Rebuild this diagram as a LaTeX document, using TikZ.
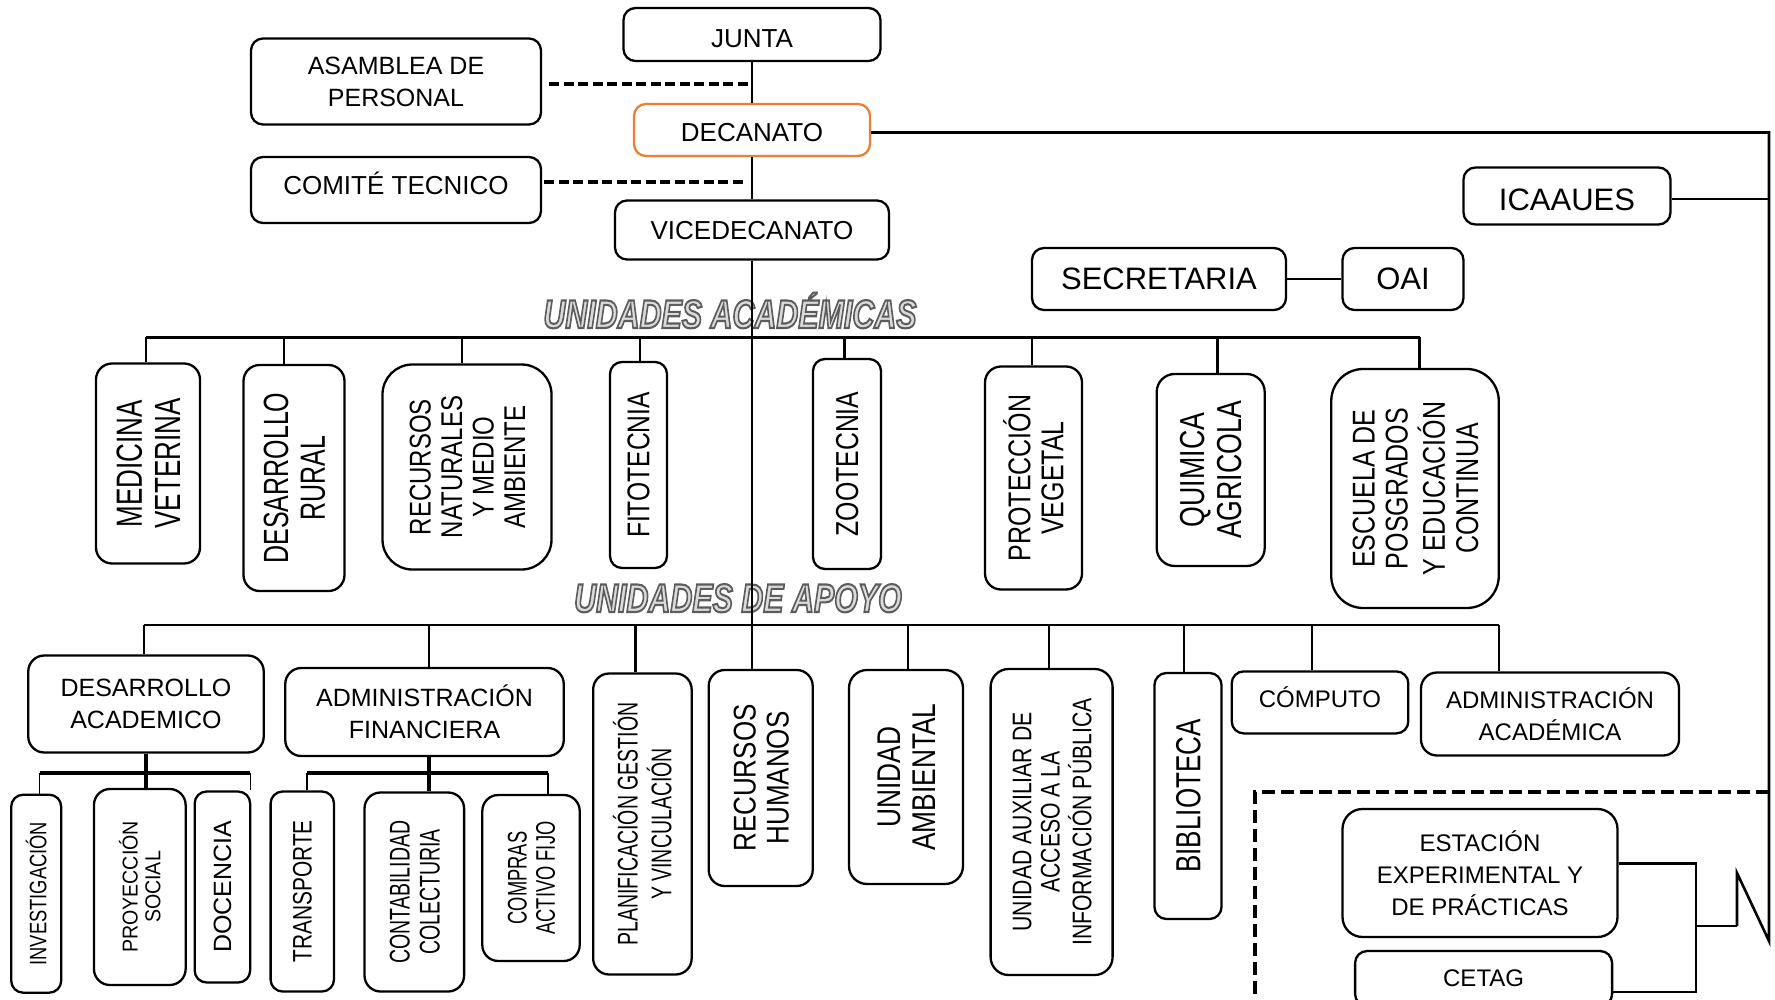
\documentclass[tikz,border=0pt]{standalone}
\usepackage{fontspec}
\setmainfont{Liberation Sans}
\usepackage{graphicx}
\definecolor{arancio}{RGB}{237,125,49}
% testo verticale: scala, corpo, righe
\newcommand{\vlab}[3]{\rotatebox{90}{\scalebox{1}[#1]{\fontsize{#2}{#2}\selectfont\renewcommand{\arraystretch}{1.05}\raisebox{0pt}[\height][\dimexpr\depth-0.3em\relax]{\begin{tabular}{@{}c@{}}#3\end{tabular}}}}}
% titolo a contorno
\newcommand{\titolo}[1]{\scalebox{0.76}[1]{\fontsize{40}{40}\selectfont\bfseries\itshape\special{pdf:literal direct q 2 Tr 2.1 w 0.36 G 0.86 g}#1\special{pdf:literal direct Q}}}
\begin{document}
\begin{tikzpicture}[x=1pt,y=-1pt,
    box/.style={draw, line width=2.3pt, rounded corners=12pt, align=center, inner sep=0pt},
    misura/.style 2 args={minimum width=#1pt, minimum height=#2pt},
    testo/.style={font=\fontsize{#1}{32}\selectfont},
    conn/.style={line width=2.6pt},
    sbar/.style={line width=3.2pt},
    thinln/.style={line width=1.4pt},
    dashln/.style={line width=3.5pt, dash pattern=on 10pt off 4.5pt},
    dashbox/.style={line width=3.2pt, dash pattern=on 13pt off 6pt}]
    \useasboundingbox (0,0) rectangle (1775,1000);
    \clip (0,0) rectangle (1775,1000);

    % Titoli delle sezioni
    \node[anchor=base] (titA) at (730,328) {\titolo{UNIDADES ACADÉMICAS}};
    \node[anchor=base] (titB) at (738,612) {\titolo{UNIDADES DE APOYO}};

    % Direzione
    \node[box, misura={257}{53}, testo=26, text height=25.4pt, text depth=0pt] (ju) at (752,34.5) {JUNTA};
    \node[box, misura={290}{86}, testo=25] (as) at (396,81.5) {ASAMBLEA DE\\PERSONAL};
    \node[box, draw=arancio, misura={236}{52}, testo=26, text height=23.2pt, text depth=0pt] (dc) at (752,130) {DECANATO};
    \node[box, misura={290}{66}, testo=26, text height=18.6pt, text depth=9pt] (ct) at (396,190) {COMITÉ TECNICO};
    \node[box, misura={274}{59}, testo=26, text height=18.6pt, text depth=0pt] (vd) at (752,230) {VICEDECANATO};
    \node[box, misura={207}{57}, testo=31, text height=29pt, text depth=0pt] (ic) at (1567,196) {ICAAUES};
    \node[box, misura={254}{62}, testo=31] (sc) at (1159,279) {SECRETARIA};
    \node[box, misura={121}{62}, testo=31] (oa) at (1403,279) {OAI};

    % Unidades academicas
    \node[box, misura={104}{200}, rounded corners=16pt] (mv) at (148,463.5) {\vlab{1.4}{26}{MEDICINA\\VETERINA}};
    \node[box, misura={101}{226}, rounded corners=16pt] (dr) at (294,478) {\vlab{1.4}{25}{DESARROLLO\\RURAL}};
    \node[box, misura={169}{205}, rounded corners=30pt] (rn) at (467,467) {\vlab{1.25}{24}{RECURSOS\\NATURALES\\Y MEDIO\\AMBIENTE}};
    \node[box, misura={57}{206}] (ft) at (638.5,465) {\vlab{1.28}{24.6}{FITOTECNIA}};
    \node[box, misura={68}{210}] (zt) at (847,464) {\vlab{1.28}{24.8}{ZOOTECNIA}};
    \node[box, misura={97}{223}, rounded corners=16pt] (pv) at (1033.5,478) {\vlab{1.26}{25}{PROTECCIÓN\\VEGETAL}};
    \node[box, misura={108}{192}, rounded corners=18pt] (qa) at (1210.7,470) {\vlab{1.3}{26.7}{QUIMICA\\AGRICOLA}};
    \node[box, misura={167.5}{239}, rounded corners=32pt] (ep) at (1415,488.5) {\vlab{1.26}{25}{ESCUELA DE\\POSGRADOS\\Y EDUCACIÓN\\CONTINUA}};

    % Unidades de apoyo
    \node[box, misura={235.5}{97}, rounded corners=16pt, testo=25] (da) at (146,704) {DESARROLLO\\ACADEMICO};
    \node[box, misura={278.5}{88}, rounded corners=16pt, testo=25] (af) at (424.5,712) {ADMINISTRACIÓN\\FINANCIERA};
    \node[box, misura={98.5}{301}, rounded corners=16pt] (pg) at (642.4,824) {\vlab{1.46}{19.5}{PLANIFICACIÓN GESTIÓN\\Y VINCULACIÓN}};
    \node[box, misura={104}{216}, rounded corners=16pt] (rh) at (760.7,778) {\vlab{1.21}{26}{RECURSOS\\HUMANOS}};
    \node[box, misura={114}{214}, rounded corners=18pt] (ua) at (906,777) {\vlab{1.25}{26.3}{UNIDAD\\AMBIENTAL}};
    \node[box, misura={122}{306}, rounded corners=18pt] (ux) at (1051.6,822) {\vlab{1.27}{21.2}{UNIDAD AUXILIAR DE\\ACCESO A LA\\INFORMACIÓN PÚBLICA}};
    \node[box, misura={67}{246}] (bi) at (1188,796) {\vlab{1.34}{26}{BIBLIOTECA}};
    \node[box, misura={176.6}{62}, testo=24, text height=17.2pt, text depth=8pt] (cp) at (1320,702.4) {CÓMPUTO};
    \node[box, misura={258}{83}, rounded corners=16pt, testo=24] (aa) at (1550,714) {ADMINISTRACIÓN\\ACADÉMICA};

    % Sottounita
    \node[box, misura={50}{198}] (iv) at (36.2,893.7) {\vlab{1.3}{18.3}{INVESTIGACIÓN}};
    \node[box, misura={91.7}{196}, rounded corners=16pt] (ps) at (139.8,887) {\vlab{1.1}{19.6}{PROYECCIÓN\\SOCIAL}};
    \node[box, misura={55.5}{191}] (dn) at (222.4,887) {\vlab{1.0}{25}{DOCENCIA}};
    \node[box, misura={63.4}{200}] (tr) at (302.3,891.5) {\vlab{1.28}{20.9}{TRANSPORTE}};
    \node[box, misura={99.6}{199}, rounded corners=16pt] (cb) at (414.3,892) {\vlab{1.46}{19.5}{CONTABILIDAD\\COLECTURIA}};
    \node[box, misura={97.4}{166}, rounded corners=16pt] (cm) at (531,878) {\vlab{1.47}{18.3}{COMPRAS\\ACTIVO FIJO}};

    % Riquadro tratteggiato
    \node[box, misura={275}{128}, rounded corners=20pt, testo=24] (es) at (1480,873) {ESTACIÓN\\EXPERIMENTAL Y\\DE PRÁCTICAS};
    \node[box, misura={257}{55}, testo=24] (cg) at (1483.6,978.5) {CETAG};

    % Linea centrale
    \draw[conn] (ju.south) -- (dc.north);
    \draw[conn] (dc.south) -- (vd.north);
    \draw[conn] (vd.south) -- (vd.south |- rh.north);
    \draw[dashln] ([xshift=7pt,yshift=-2.5pt]as.east) -- ([yshift=-2.5pt]as.east -| ju.south);
    \draw[dashln] ([xshift=2pt,yshift=8pt]ct.east) -- ([xshift=-7pt,yshift=8pt]ct.east -| ju.south);
    \draw[conn] (sc.east) -- (oa.west);

    % Barra accademica
    \coordinate (barA) at (146,337.3);
    \coordinate (barAr) at (1419.5,337.3);
    \draw[conn] (barA) -- (barAr);
    \foreach \n/\dx in {mv/-2, dr/-10, rn/-5, ft/1.5, zt/-2.5, pv/-1.5, qa/7, ep/4.5} {
        \path ([xshift=\dx pt]\n.north) coordinate (t);
        \draw[conn] (t) -- (t |- barA);
    }

    % Barra di appoggio
    \coordinate (barB) at (143.8,625);
    \coordinate (barBr) at (1499,625);
    \draw[conn] (barB) -- (barBr);
    \foreach \n/\dx in {da/-2, af/4.5, pg/-7, ua/2, ux/-2.6, bi/-4, cp/-8, aa/-51} {
        \path ([xshift=\dx pt]\n.north) coordinate (t);
        \draw[conn] (t) -- (t |- barB);
    }

    % Sottobarre
    \coordinate (sbA) at (39.6,773);
    \coordinate (sbAr) at (250.2,773);
    \draw[line width=3.6pt] (da.south) -- (da.south |- ps.north);
    \draw[sbar] (sbA) -- (sbAr);
    \draw[thinln] (sbA) -- (sbA |- iv.north);
    \draw[thinln] (sbAr) -- (sbAr |- dn.north);
    \path ([xshift=4.5pt]af.south) coordinate (afd);
    \coordinate (sbB) at (306.8,773);
    \coordinate (sbBr) at (547.9,773);
    \draw[line width=3.6pt] (afd) -- (afd |- cb.north);
    \draw[sbar] (sbB) -- (sbBr);
    \draw[thinln] (sbB) -- (sbB |- tr.north);
    \draw[thinln] (sbBr) -- (sbBr |- cm.north);

    % Linea di destra e zigzag
    \coordinate (zA) at (1769,941);
    \coordinate (zB) at (1737,873);
    \coordinate (zC) at (1737,926);
    \coordinate (bk) at (1696,926);
    \draw[conn] ([yshift=-2.5pt]dc.east) -| (zA) -- (zB) -- (zC);
    \draw[thinln] (zC) -- (bk);
    \draw[conn] ([yshift=-3pt]ic.east) -- ([yshift=-3pt]ic.east -| zA);
    \draw[conn] (es.4) -| (bk) |- (cg.-6);
    \coordinate (dbA) at (1255,792);
    \coordinate (dbB) at (1255,1000);
    \draw[dashbox] (dbA -| zA) -- (dbA) -- (dbB);
\end{tikzpicture}
\end{document}
